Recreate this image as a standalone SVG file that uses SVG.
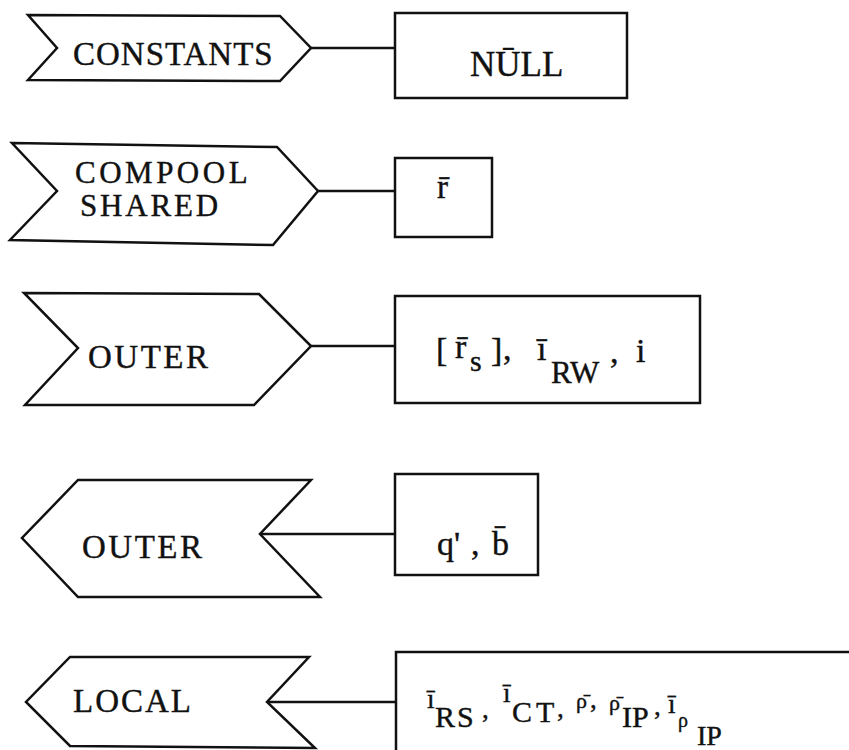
<svg xmlns="http://www.w3.org/2000/svg" width="849" height="750" viewBox="0 0 849 750" font-family="'Liberation Serif', 'DejaVu Serif', serif">
<style>
.shape{fill:#fff;stroke:#111;stroke-width:2.5;stroke-linejoin:miter}
.conn line{stroke:#111;stroke-width:2.5}
text{fill:#111;stroke:#111;stroke-width:0.4}
</style>
<rect width="849" height="750" fill="#fff"/>
<g class="conn" id="connectors">
<line x1="311" y1="48" x2="395" y2="48"/>
<line x1="318" y1="191" x2="395" y2="191"/>
<line x1="311" y1="346" x2="395" y2="346"/>
<line x1="260" y1="534" x2="395" y2="534"/>
<line x1="267" y1="702" x2="396" y2="702"/>
</g>
<g id="constants">
<path class="shape" d="M28,15 L280,16 L311,48 L280,81 L28,80 L57,48 Z"/>
<text x="73" y="65" font-size="33" letter-spacing="1">CONSTANTS</text>
</g>
<g id="null">
<rect class="shape" x="395" y="13" width="232" height="85"/>
<text x="470" y="76" font-size="35">NŪLL</text>
</g>
<g id="compool">
<path class="shape" d="M12,143 L277,147 L318,191 L273,245 L10,240 L57,191 Z"/>
<text font-size="31"><tspan x="75" y="183" letter-spacing="3.5">COMPOOL</tspan><tspan x="80" y="216" letter-spacing="2.8">SHARED</tspan></text>
</g>
<g id="r-box">
<rect class="shape" x="395" y="158" width="97" height="79"/>
<text x="437" y="198" font-size="33">r̄</text>
</g>
<g id="outer-in">
<path class="shape" d="M24,293 L259,294 L311,346 L254,405 L25,405 L78,348 Z"/>
<text x="88" y="368" font-size="33" letter-spacing="2.5">OUTER</text>
</g>
<g id="outer-in-box">
<rect class="shape" x="395" y="296" width="305" height="107"/>
<text font-size="34"><tspan x="436" y="361">[</tspan><tspan x="455" y="358">r̄</tspan><tspan x="470" y="371" font-size="30">s</tspan><tspan x="491" y="361">]</tspan><tspan x="503" y="360">,</tspan><tspan x="537" y="360">ī</tspan><tspan x="551" y="383" font-size="31">RW</tspan><tspan x="610" y="363">,</tspan><tspan x="636" y="362">i</tspan></text>
</g>
<g id="outer-out">
<path class="shape" d="M78,480 L311,480 L260,534 L320,597 L78,597 L22,538 Z"/>
<text x="82" y="558" font-size="33" letter-spacing="2.5">OUTER</text>
</g>
<g id="outer-out-box">
<rect class="shape" x="395" y="474" width="143" height="101"/>
<text font-size="34"><tspan x="437" y="555">q'</tspan><tspan x="471" y="555">,</tspan><tspan x="492" y="555">b̄</tspan></text>
</g>
<g id="local">
<path class="shape" d="M70,657 L309,657 L267,702 L315,748 L70,746 L26,702 Z"/>
<text x="73" y="712" font-size="33" letter-spacing="2">LOCAL</text>
</g>
<g id="local-box">
<rect class="shape" x="396" y="652" width="480" height="120"/>
<text font-size="27"><tspan x="427" y="708">ī</tspan><tspan x="435" y="727" font-size="30" letter-spacing="2">RS</tspan><tspan x="482" y="718">,</tspan><tspan x="503" y="702">ī</tspan><tspan x="512" y="722" font-size="30" letter-spacing="4">CT</tspan><tspan x="557" y="717">,</tspan><tspan x="576" y="708" font-size="22">ρ̄</tspan><tspan x="590" y="708">,</tspan><tspan x="609" y="710" font-size="22">ρ̄</tspan><tspan x="622" y="727" font-size="30">IP</tspan><tspan x="654" y="715">,</tspan><tspan x="668" y="713">ī</tspan><tspan x="678" y="727" font-size="20">ρ</tspan><tspan x="697" y="745" font-size="28">IP</tspan></text>
</g>
</svg>
